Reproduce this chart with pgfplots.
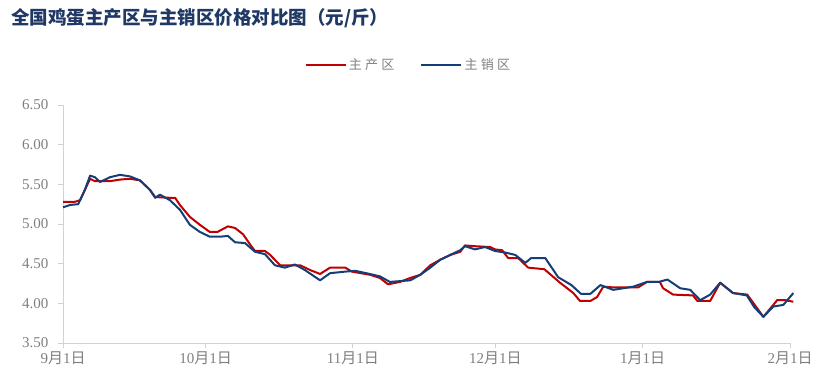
\documentclass[border=0pt]{standalone}
\usepackage{pgfplots}
\pgfplotsset{compat=1.18}
\usepackage{fontspec}
\setmainfont{Liberation Serif}
\newfontfamily\cjk{Noto Sans CJK SC}
\newfontfamily\cjkl{Noto Sans CJK SC}[LetterSpace=25]
\definecolor{redl}{RGB}{192,0,0}
\definecolor{bluel}{RGB}{18,63,120}
\definecolor{titc}{RGB}{31,56,100}
\definecolor{tickc}{RGB}{127,127,127}
\definecolor{axc}{RGB}{210,210,210}
\begin{document}
\begin{tikzpicture}
\path (0pt,0pt) rectangle (819pt,376pt);
\node[anchor=west, text=titc, font=\cjk\bfseries\fontsize{18.5}{21}\selectfont, inner sep=0pt] at (11pt,358pt) {全国鸡蛋主产区与主销区价格对比图（元/斤）};
\begin{axis}[at={(63pt,33pt)}, anchor=south west, scale only axis, width=727pt, height=238pt,
  xmin=0, xmax=153, ymin=3.5, ymax=6.5,
  axis x line*=bottom, axis y line*=left,
  axis line style={axc, line width=1pt},
  tick align=outside, major tick length=5pt,
  every tick/.style={axc, line width=1pt},
  ytick={3.5,4,4.5,5,5.5,6,6.5},
  xtick={0,30,61,91,122,153},
  xticklabels={9{\cjk 月}1{\cjk 日},10{\cjk 月}1{\cjk 日},11{\cjk 月}1{\cjk 日},12{\cjk 月}1{\cjk 日},1{\cjk 月}1{\cjk 日},2{\cjk 月}1{\cjk 日}},
  /pgf/number format/assume math mode=true,
  yticklabel style={/pgf/number format/.cd, fixed, fixed zerofill, precision=2, /tikz/xshift=-6pt},
  ticklabel style={text=tickc, font=\fontsize{15}{17}\selectfont},
  legend style={at={(0.475,1.168)}, anchor=center, draw=none, fill=none,
    font=\cjkl\fontsize{13}{15}\selectfont, text=tickc,
    /tikz/every even column/.append style={column sep=24pt}},
  legend columns=2,
  legend image code/.code={\draw[#1, line width=2.2pt] (0pt,0pt) -- (40pt,0pt);},
  clip=false,
]
\addplot[redl, line width=2pt, line join=round] coordinates {
(0,5.28)(2.5,5.28)(3.6,5.30)(4.6,5.43)(5.7,5.57)(6.7,5.54)(9.9,5.54)(12,5.56)(14.1,5.57)(16.2,5.55)(18.3,5.43)(19.4,5.34)(22.5,5.33)(23.6,5.33)(24.6,5.24)(26.7,5.09)(28.8,4.99)(30.9,4.90)(32.5,4.90)(34.7,4.97)(36.2,4.95)(37.9,4.87)(39.4,4.74)(40.4,4.66)(42.5,4.66)(43.6,4.61)(45.7,4.48)(49.9,4.48)(52,4.42)(54.1,4.37)(56.2,4.45)(59.4,4.45)(60.8,4.40)(64.6,4.36)(66.7,4.32)(68.4,4.24)(70.9,4.27)(73.1,4.32)(75.2,4.36)(77.3,4.48)(79.4,4.55)(81.5,4.61)(83.6,4.65)(84.6,4.73)(86.7,4.72)(89.9,4.71)(90.9,4.68)(92.4,4.67)(93.7,4.57)(95.8,4.57)(97.9,4.45)(101.3,4.43)(104.6,4.26)(107.4,4.13)(108.8,4.03)(111,4.03)(112.4,4.08)(113.7,4.21)(116,4.20)(121,4.20)(122.9,4.27)(125.6,4.27)(126.3,4.19)(128.4,4.11)(132.6,4.10)(133.5,4.03)(136.2,4.03)(138.3,4.26)(141,4.13)(144,4.11)(147.4,3.83)(150.3,4.04)(152,4.04)(153.7,4.02)
};
\addlegendentry{主产区}
\addplot[bluel, line width=2pt, line join=round] coordinates {
(0,5.21)(1.5,5.24)(3.2,5.25)(4.6,5.43)(5.7,5.61)(6.7,5.59)(7.8,5.53)(9.9,5.59)(12,5.62)(14.1,5.60)(16.2,5.55)(18.3,5.43)(19.4,5.33)(20.4,5.37)(22.5,5.30)(24.6,5.18)(26.7,4.99)(28.8,4.90)(30.9,4.84)(33.1,4.84)(34.7,4.85)(36.2,4.77)(38.3,4.76)(40.4,4.65)(42.5,4.62)(44.6,4.48)(46.7,4.45)(48.8,4.49)(50.9,4.42)(54.1,4.29)(56.2,4.38)(59.4,4.40)(61.5,4.41)(64.6,4.37)(66.7,4.34)(68.8,4.27)(70.9,4.28)(73.1,4.29)(75.2,4.36)(77.3,4.45)(79.4,4.55)(81.5,4.61)(83.6,4.67)(84.6,4.72)(86.7,4.68)(88.8,4.71)(90.9,4.66)(93.1,4.64)(95.2,4.61)(97.3,4.51)(98.5,4.57)(101.5,4.57)(104.2,4.33)(107,4.23)(109,4.12)(111,4.12)(113.1,4.23)(115.8,4.17)(120,4.21)(122.9,4.27)(125.4,4.27)(127.2,4.30)(129.9,4.19)(132,4.17)(134.1,4.04)(136.2,4.11)(138.3,4.26)(141,4.13)(143.9,4.10)(145.5,3.95)(147.4,3.83)(149.5,3.96)(151.6,3.98)(153.7,4.13)
};
\addlegendentry{主销区}
\end{axis}
\end{tikzpicture}
\end{document}
